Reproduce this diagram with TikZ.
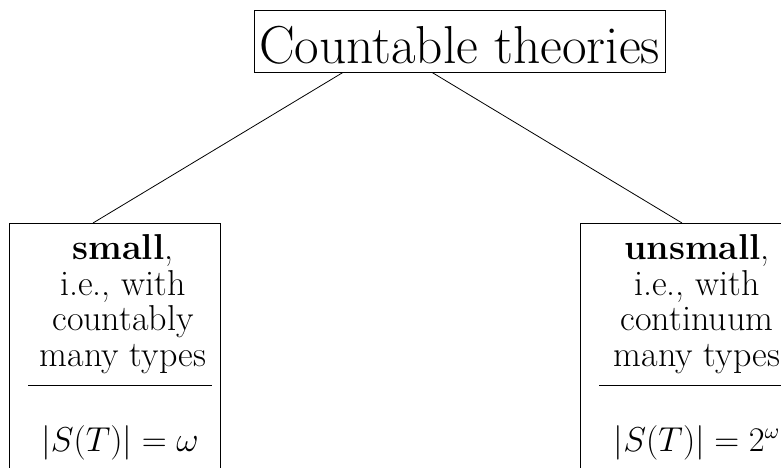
\documentclass[tikz,border=0pt]{standalone}
\usepackage{amsmath,amssymb}
\usepackage{tikz}
\usetikzlibrary{positioning}

\begin{document}
\begin{tikzpicture}[x=0.5pt, y=-0.5pt]
\tikzstyle{root} = [rectangle, draw, inner xsep=1pt, inner ysep=2pt, text height=24.5pt, text depth=2.5pt, minimum width=205.5pt, font=\fontsize{26.7}{32}\selectfont]
\tikzstyle{typebox} = [rectangle, draw, minimum width=105.85pt, minimum height=200pt, inner sep=0pt]
\tikzstyle{typetext} = [align=center, inner sep=0pt, font=\fontsize{18}{17.85}\selectfont]
\tikzstyle{typecard} = [inner sep=0pt, font=\fontsize{15.9}{18}\selectfont]

\useasboundingbox (0,0) rectangle (781,467);
\clip (0,0) rectangle (781,467);

\node[root, anchor=base] (top) at (459.5,63) {Countable theories};
\node[typebox, anchor=north] (small) at (114.85,223) {};
\node[typebox, anchor=north] (unsmall) at (685.85,223) {};

\node[typetext, anchor=base] (smalltxt) at (123,366.4) {\textbf{small},\\ i.e., with\\ countably\\ many types};
\node[typecard, anchor=base] (smallcard) at (120,451.5) {$|S(T)| = \omega$};
\node[typetext, anchor=base] (unsmalltxt) at (697,366.4) {\textbf{unsmall},\\ i.e., with\\ continuum\\ many types};
\node[typecard, anchor=base] (unsmallcard) at (697,451.5) {$|S(T)| = 2^\omega$};

% rules under the type counts
\draw (28,385) -- (212,385);
\draw (599,385) -- (800,385);

\draw ([xshift=-58.25pt]top.south) -- ([xshift=-10.93pt]small.north);
\draw ([xshift=-13.75pt]top.south) -- ([xshift=-1.93pt]unsmall.north);
\end{tikzpicture}
\end{document}
